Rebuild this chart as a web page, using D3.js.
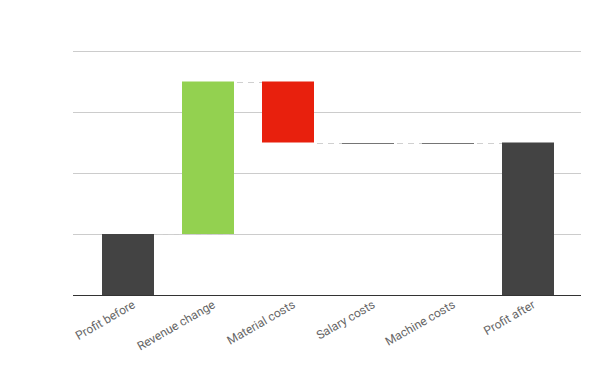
<!DOCTYPE html>
<html><head><meta charset="utf-8">
<script src="https://cdn.jsdelivr.net/npm/d3@7"></script>
<style>body{margin:0;background:#fff}text{font-family:Roboto,"Open Sans",sans-serif}</style>
</head><body><svg id="c" width="600" height="371"></svg>
<script>
const categories = ["Profit before","Revenue change","Material costs","Salary costs","Machine costs","Profit after"];
const values = [1, 2.5, -1, 0, 0, 2.5];
const kinds = ["total","delta","delta","delta","delta","total"];
const yTicks = [0,1,2,3,4];

const svg = d3.select("#c");
const x = d3.scaleBand().domain(categories).range([88,568]).paddingInner(0.35).paddingOuter(0.175);
const y = d3.scaleLinear().domain([0,4]).range([295,51]);

// compute waterfall
let cum = 0;
const bars = categories.map((c,i)=>{
  let start, end;
  if(kinds[i]==="total"){ start=0; end=values[i]; cum=values[i]; }
  else { start=cum; end=cum+values[i]; cum=end; }
  return {c, start, end, v:values[i], kind:kinds[i]};
});

// gridlines
svg.append("g").selectAll("line").data(yTicks.filter(t=>t>0)).join("line")
  .attr("x1",73).attr("x2",581).attr("y1",d=>y(d)+0.5).attr("y2",d=>y(d)+0.5)
  .attr("stroke","#cccccc").attr("stroke-width",1);

// connectors
const conn = [];
for(let i=0;i<bars.length-1;i++){
  conn.push({x1:x(bars[i].c)+x.bandwidth()+3, x2:x(bars[i+1].c)+x.bandwidth()-4, v:bars[i].end});
}
svg.append("g").selectAll("line").data(conn).join("line")
  .attr("x1",d=>d.x1).attr("x2",d=>d.x2).attr("y1",d=>Math.round(y(d.v))+0.5).attr("y2",d=>Math.round(y(d.v))+0.5)
  .attr("stroke","#d0d0d0").attr("stroke-width",1).attr("stroke-dasharray","6,5");

// bars
const color = d => d.kind==="total" ? "#434343" : (d.v>0 ? "#93d150" : "#e8200d");
svg.append("g").selectAll("rect").data(bars.filter(b=>b.v!==0)).join("rect")
  .attr("x",d=>x(d.c)).attr("width",x.bandwidth())
  .attr("y",d=>y(Math.max(d.start,d.end))).attr("height",d=>Math.abs(y(d.start)-y(d.end)))
  .attr("fill",color);
// zero bars
svg.append("g").selectAll("line").data(bars.filter(b=>b.v===0)).join("line")
  .attr("x1",d=>x(d.c)).attr("x2",d=>x(d.c)+x.bandwidth())
  .attr("y1",d=>Math.round(y(d.end))+0.5).attr("y2",d=>Math.round(y(d.end))+0.5)
  .attr("stroke","#757575").attr("stroke-width",1);

// baseline
svg.append("line").attr("x1",73).attr("x2",581).attr("y1",y(0)+0.5).attr("y2",y(0)+0.5)
  .attr("stroke","#333").attr("stroke-width",1);

// x labels
svg.append("g").selectAll("text").data(categories).join("text")
  .attr("transform",d=>`translate(${x(d)+x.bandwidth()/2+8},${307}) rotate(-30)`)
  .attr("text-anchor","end").attr("font-size",12).attr("fill","#666").text(d=>d);
</script></body></html>
